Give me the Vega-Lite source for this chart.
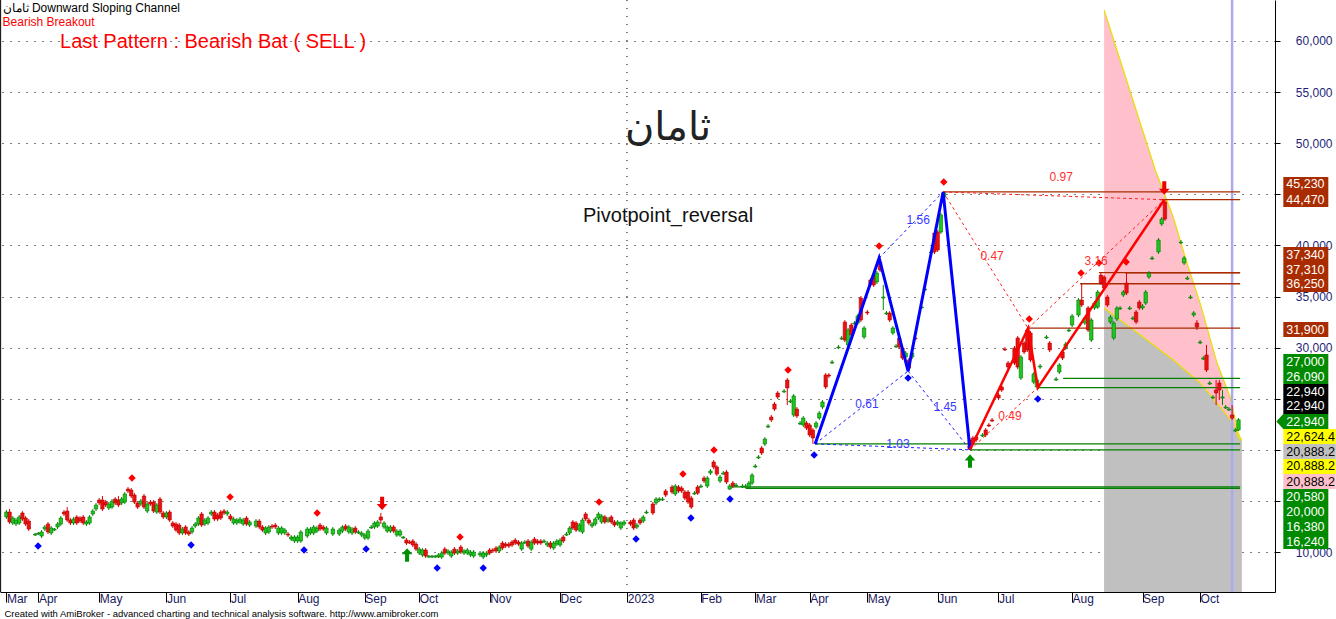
{
"$schema":"https://vega.github.io/schema/vega-lite/v6.json",
"width":1275,"height":592,"autosize":{"type":"none"},"padding":{"left":0,"top":0,"right":61,"bottom":27},"background":"white",
"config":{"view":{"stroke":null},"font":"Liberation Sans","scale":{"continuousPadding":0}},
"resolve":{"scale":{"color":"independent"}},
"datasets":{
"chan":[{"s":"up","n":345,"v":63030},{"s":"up","n":361,"v":47380},{"s":"up","n":363.4,"v":45420},{"s":"up","n":366.6,"v":42780},{"s":"up","n":370.9,"v":38280},{"s":"up","n":375,"v":34360},{"s":"up","n":380.3,"v":28490},{"s":"up","n":384.4,"v":25170},{"s":"up","n":386.9,"v":21640},{"s":"up","n":388,"v":20890},
{"s":"lo","n":345,"v":33880},{"s":"lo","n":350,"v":32700},{"s":"lo","n":358.4,"v":30740},{"s":"lo","n":366.6,"v":28790},{"s":"lo","n":375,"v":26540},{"s":"lo","n":380.3,"v":24580},{"s":"lo","n":385.3,"v":22620},{"s":"lo","n":386.9,"v":21250},{"s":"lo","n":388,"v":20890}],
"lev":[{"v":45230,"a":294.7,"b":387.5,"k":"r"},{"v":44470,"a":362.5,"b":387.5,"k":"r"},{"v":37340,"a":343.4,"b":387.5,"k":"r"},{"v":37310,"a":351.6,"b":387.5,"k":"r"},{"v":36250,"a":337.5,"b":387.5,"k":"r"},{"v":31900,"a":321.25,"b":387.5,"k":"r"},
{"v":27000,"a":332.2,"b":387.5,"k":"g"},{"v":26090,"a":324.3,"b":387.5,"k":"g"},{"v":20580,"a":254.7,"b":387.5,"k":"g"},{"v":20000,"a":303.1,"b":387.5,"k":"g"},{"v":16380,"a":228.1,"b":387.5,"k":"g"},{"v":16240,"a":233,"b":387.5,"k":"g"}],
"dash":[{"g":"b1","k":"b","n":254.7,"v":20580},{"g":"b1","k":"b","n":283.75,"v":27700},{"g":"b2","k":"b","n":274.7,"v":38770},{"g":"b2","k":"b","n":294.7,"v":45230},{"g":"b3","k":"b","n":283.75,"v":27700},{"g":"b3","k":"b","n":303.1,"v":20000},{"g":"b4","k":"b","n":254.7,"v":20580},{"g":"b4","k":"b","n":303.1,"v":20000},
{"g":"r1","k":"r","n":294.7,"v":45230},{"g":"r1","k":"r","n":321.25,"v":31900},{"g":"r2","k":"r","n":303.1,"v":20000},{"g":"r2","k":"r","n":324.3,"v":26090},{"g":"r3","k":"r","n":321.25,"v":31900},{"g":"r3","k":"r","n":363.8,"v":44470},{"g":"r4","k":"r","n":294.7,"v":45230},{"g":"r4","k":"r","n":363.8,"v":44470}],
"zig":[{"g":"b","n":254.7,"v":20580},{"g":"b","n":274.7,"v":38770},{"g":"b","n":283.75,"v":27700},{"g":"b","n":294.7,"v":45230},{"g":"b","n":303.1,"v":20000},
{"g":"r","n":303.1,"v":20000},{"g":"r","n":321.25,"v":31900},{"g":"r","n":324.3,"v":26090},{"g":"r","n":363.8,"v":44470}],
"ratios":[{"n":286.9,"v":42490,"t":"1.56","k":"b"},{"n":270.9,"v":24480,"t":"0.61","k":"b"},{"n":295.3,"v":24190,"t":"1.45","k":"b"},{"n":280.6,"v":20570,"t":"1.03","k":"b"},{"n":310,"v":38970,"t":"0.47","k":"r"},{"n":315.6,"v":23320,"t":"0.49","k":"r"},{"n":342.5,"v":38470,"t":"3.16","k":"r"},{"n":331.6,"v":46690,"t":"0.97","k":"r"}],
"piv":[{"n":41.25,"v":17240,"k":"hi"},{"n":71.9,"v":15380,"k":"hi"},{"n":99.1,"v":13820,"k":"hi"},{"n":143.75,"v":11470,"k":"hi"},{"n":187.2,"v":14890,"k":"hi"},{"n":213.4,"v":17630,"k":"hi"},{"n":223.1,"v":19980,"k":"hi"},{"n":246.25,"v":27810,"k":"hi"},{"n":274.7,"v":39940,"k":"hi"},{"n":294.9,"v":46200,"k":"hi"},{"n":321.6,"v":32800,"k":"hi"},{"n":337.8,"v":37300,"k":"hi"},{"n":343.4,"v":38280,"k":"hi"},{"n":351.9,"v":38380,"k":"hi"},
{"n":11.9,"v":10590,"k":"lo"},{"n":59.7,"v":10690,"k":"lo"},{"n":95,"v":10200,"k":"lo"},{"n":114.4,"v":10290,"k":"lo"},{"n":136.6,"v":8430,"k":"lo"},{"n":151,"v":8430,"k":"lo"},{"n":198.75,"v":11270,"k":"lo"},{"n":215.9,"v":13330,"k":"lo"},{"n":228.1,"v":15190,"k":"lo"},{"n":254.4,"v":19490,"k":"lo"},{"n":283.75,"v":27030,"k":"lo"},{"n":324.3,"v":24970,"k":"lo"}],
"arrows":[{"n":119.4,"v":14760,"k":"dn"},{"n":363.8,"v":45620,"k":"dn"},{"n":127.2,"v":9710,"k":"up"},{"n":303.1,"v":18900,"k":"up"}],
"tags":[{"t":"45,230","at":45960,"k":"dr"},{"t":"44,470","at":44490,"k":"dr"},{"t":"37,340","at":39110,"k":"dr"},{"t":"37,310","at":37640,"k":"dr"},{"t":"36,250","at":36180,"k":"dr"},{"t":"31,900","at":31770,"k":"dr"},{"t":"27,000","at":28640,"k":"g"},{"t":"26,090","at":27170,"k":"g"},{"t":"22,940","at":25700,"k":"bk"},{"t":"22,940","at":24240,"k":"bk"},{"t":"22,940","at":22770,"k":"ga"},{"t":"22,624.4","at":21300,"k":"y"},{"t":"20,888.2","at":19830,"k":"gr"},{"t":"20,888.2","at":18370,"k":"y"},{"t":"20,888.2","at":16900,"k":"p"},{"t":"20,580","at":15430,"k":"g"},{"t":"20,000","at":13960,"k":"g"},{"t":"16,380","at":12490,"k":"g"},{"t":"16,240","at":11030,"k":"g"}],
"candles":[
{"n":2,"o":13430,"h":14110,"l":13230,"c":13910},{"n":3,"o":13910,"h":14210,"l":12740,"c":12940},{"n":4,"o":12840,"h":13520,"l":12640,"c":13330},{"n":5,"o":12740,"h":13330,"l":12540,"c":13130},{"n":6,"o":12840,"h":13620,"l":12640,"c":13430},{"n":7,"o":13820,"h":14010,"l":13030,"c":13230},{"n":8,"o":13330,"h":13520,"l":12540,"c":12740},{"n":9,"o":13030,"h":13230,"l":12050,"c":12250},{"n":11,"o":11660,"h":11860,"l":11570,"c":11760},{"n":12,"o":11760,"h":11960,"l":11660,"c":11860},
{"n":13,"o":11570,"h":12150,"l":11370,"c":11960},{"n":14,"o":12250,"h":12640,"l":12050,"c":12450},{"n":15,"o":12740,"h":12940,"l":11760,"c":11960},{"n":16,"o":11860,"h":12540,"l":11660,"c":12350},{"n":17,"o":12150,"h":12350,"l":12050,"c":12250},{"n":18,"o":12450,"h":12940,"l":12250,"c":12740},{"n":19,"o":12740,"h":13520,"l":12540,"c":13330},{"n":20,"o":13910,"h":14110,"l":13520,"c":13720},{"n":21,"o":14010,"h":14400,"l":12940,"c":13130},{"n":22,"o":13130,"h":13330,"l":12640,"c":12840},
{"n":23,"o":12840,"h":13430,"l":12640,"c":13230},{"n":24,"o":13430,"h":13620,"l":12640,"c":12840},{"n":25,"o":13330,"h":13520,"l":12840,"c":13030},{"n":26,"o":13430,"h":13620,"l":12640,"c":12840},{"n":27,"o":12740,"h":13130,"l":12540,"c":12940},{"n":28,"o":12840,"h":13620,"l":12640,"c":13430},{"n":29,"o":13720,"h":14210,"l":13520,"c":14010},{"n":30,"o":14210,"h":14790,"l":14010,"c":14600},{"n":31,"o":15090,"h":15280,"l":14600,"c":14800},{"n":32,"o":15090,"h":15480,"l":14010,"c":14210},
{"n":33,"o":14890,"h":15090,"l":14400,"c":14600},{"n":34,"o":14310,"h":14890,"l":14110,"c":14700},{"n":35,"o":14400,"h":15190,"l":14210,"c":14990},{"n":36,"o":15190,"h":15380,"l":14600,"c":14800},{"n":37,"o":15090,"h":15480,"l":14400,"c":14600},{"n":38,"o":14800,"h":15380,"l":14600,"c":15190},{"n":39,"o":14890,"h":15870,"l":14700,"c":15680},{"n":40,"o":16160,"h":16360,"l":15770,"c":15970},{"n":41,"o":16070,"h":16260,"l":15280,"c":15480},{"n":42,"o":15580,"h":15770,"l":14700,"c":14890},
{"n":43,"o":14800,"h":14990,"l":14210,"c":14400},{"n":44,"o":14700,"h":15190,"l":14500,"c":14990},{"n":45,"o":15480,"h":15680,"l":14210,"c":14400},{"n":46,"o":14010,"h":14890,"l":13820,"c":14700},{"n":47,"o":14890,"h":15090,"l":14500,"c":14700},{"n":48,"o":14890,"h":15090,"l":13820,"c":14010},{"n":49,"o":13910,"h":14790,"l":13720,"c":14600},{"n":50,"o":15190,"h":15380,"l":13720,"c":13910},{"n":51,"o":13820,"h":14010,"l":13230,"c":13430},{"n":52,"o":13430,"h":14010,"l":13230,"c":13820},
{"n":53,"o":13910,"h":14110,"l":12940,"c":13130},{"n":54,"o":12840,"h":13030,"l":12350,"c":12540},{"n":55,"o":12740,"h":12940,"l":11960,"c":12150},{"n":56,"o":12640,"h":12840,"l":11660,"c":11860},{"n":57,"o":11860,"h":12450,"l":11660,"c":12250},{"n":58,"o":12450,"h":12640,"l":11660,"c":11860},{"n":59,"o":11960,"h":12150,"l":11570,"c":11760},{"n":60,"o":11960,"h":12540,"l":11760,"c":12350},{"n":61,"o":12540,"h":12940,"l":12350,"c":12740},{"n":62,"o":12740,"h":13520,"l":12540,"c":13330},
{"n":63,"o":13720,"h":13910,"l":12450,"c":12640},{"n":64,"o":12740,"h":13330,"l":12540,"c":13130},{"n":65,"o":12840,"h":13520,"l":12640,"c":13330},{"n":66,"o":13720,"h":14110,"l":13520,"c":13910},{"n":67,"o":13910,"h":14110,"l":13030,"c":13230},{"n":68,"o":13620,"h":13820,"l":13030,"c":13230},{"n":69,"o":13910,"h":14110,"l":13130,"c":13330},{"n":70,"o":14010,"h":14210,"l":13620,"c":13820},{"n":71,"o":13720,"h":14110,"l":13520,"c":13910},{"n":72,"o":13520,"h":13720,"l":13030,"c":13230},
{"n":73,"o":12840,"h":13430,"l":12640,"c":13230},{"n":74,"o":12840,"h":13330,"l":12640,"c":13130},{"n":75,"o":12940,"h":13430,"l":12740,"c":13230},{"n":76,"o":12740,"h":13330,"l":12540,"c":13130},{"n":77,"o":13330,"h":13520,"l":12540,"c":12740},{"n":78,"o":12640,"h":13130,"l":12450,"c":12940},{"n":80,"o":12540,"h":13230,"l":12350,"c":13030},{"n":81,"o":13030,"h":13230,"l":12250,"c":12450},{"n":82,"o":12450,"h":12640,"l":11960,"c":12150},{"n":83,"o":11860,"h":12540,"l":11660,"c":12350},
{"n":84,"o":11960,"h":12640,"l":11760,"c":12450},{"n":85,"o":12540,"h":12740,"l":12250,"c":12450},{"n":86,"o":12640,"h":12840,"l":12250,"c":12450},{"n":87,"o":11860,"h":12540,"l":11660,"c":12350},{"n":88,"o":11860,"h":12540,"l":11660,"c":12350},{"n":89,"o":11860,"h":12350,"l":11660,"c":12150},{"n":90,"o":11760,"h":11960,"l":11470,"c":11660},{"n":91,"o":11270,"h":11660,"l":11080,"c":11470},{"n":92,"o":11080,"h":11660,"l":10880,"c":11470},{"n":93,"o":11080,"h":11660,"l":10880,"c":11470},
{"n":94,"o":11080,"h":12150,"l":10880,"c":11960},{"n":96,"o":11570,"h":12450,"l":11370,"c":12250},{"n":97,"o":11860,"h":12450,"l":11660,"c":12250},{"n":98,"o":11860,"h":12640,"l":11660,"c":12450},{"n":99,"o":12050,"h":12540,"l":11860,"c":12350},{"n":100,"o":12640,"h":12840,"l":12050,"c":12250},{"n":101,"o":12450,"h":12640,"l":12050,"c":12250},{"n":102,"o":11860,"h":12540,"l":11660,"c":12350},{"n":104,"o":11760,"h":12450,"l":11570,"c":12250},{"n":106,"o":11760,"h":12350,"l":11570,"c":12150},
{"n":107,"o":12050,"h":12640,"l":11860,"c":12450},{"n":108,"o":12540,"h":12740,"l":12050,"c":12250},{"n":109,"o":11960,"h":12640,"l":11760,"c":12450},{"n":110,"o":11860,"h":12450,"l":11660,"c":12250},{"n":111,"o":12350,"h":12540,"l":11760,"c":11960},{"n":112,"o":11860,"h":12150,"l":11760,"c":11960},{"n":113,"o":11660,"h":12050,"l":11470,"c":11860},{"n":114,"o":11370,"h":11860,"l":11170,"c":11660},{"n":115,"o":11370,"h":12250,"l":11170,"c":12050},{"n":116,"o":12350,"h":12640,"l":12250,"c":12450},
{"n":117,"o":12450,"h":13030,"l":12250,"c":12840},{"n":118,"o":12540,"h":13130,"l":12350,"c":12940},{"n":119,"o":13430,"h":13820,"l":12740,"c":13130},{"n":120,"o":12450,"h":13030,"l":12250,"c":12840},{"n":121,"o":12050,"h":12640,"l":11860,"c":12450},{"n":122,"o":12050,"h":12640,"l":11860,"c":12450},{"n":123,"o":12450,"h":12640,"l":11860,"c":12050},{"n":124,"o":11660,"h":12250,"l":11470,"c":12050},{"n":125,"o":11660,"h":12250,"l":11470,"c":12050},{"n":126,"o":11370,"h":11570,"l":11270,"c":11470},
{"n":127,"o":11170,"h":11370,"l":10680,"c":10880},{"n":128,"o":10980,"h":11170,"l":10780,"c":10880},{"n":129,"o":11080,"h":11270,"l":10490,"c":10690},{"n":130,"o":10780,"h":10980,"l":10100,"c":10290},{"n":131,"o":9900,"h":10490,"l":9710,"c":10290},{"n":132,"o":9710,"h":10390,"l":9510,"c":10200},{"n":133,"o":10200,"h":10390,"l":9410,"c":9610},{"n":134,"o":9510,"h":9710,"l":9410,"c":9610},{"n":135,"o":9510,"h":9710,"l":9410,"c":9610},{"n":136,"o":9510,"h":9710,"l":9410,"c":9610},
{"n":137,"o":9510,"h":9900,"l":9410,"c":9710},{"n":138,"o":9510,"h":10100,"l":9310,"c":9900},{"n":139,"o":10290,"h":10490,"l":9710,"c":9900},{"n":140,"o":9900,"h":10290,"l":9710,"c":10100},{"n":141,"o":9610,"h":10200,"l":9410,"c":10000},{"n":142,"o":10290,"h":10490,"l":9710,"c":9900},{"n":143,"o":9900,"h":10290,"l":9710,"c":10100},{"n":144,"o":10490,"h":10690,"l":9800,"c":10000},{"n":145,"o":9900,"h":10290,"l":9710,"c":10100},{"n":146,"o":9900,"h":10390,"l":9710,"c":10200},
{"n":147,"o":9710,"h":10200,"l":9510,"c":10000},{"n":148,"o":9610,"h":10200,"l":9410,"c":10000},{"n":150,"o":9710,"h":10100,"l":9510,"c":9900},{"n":151,"o":9510,"h":10100,"l":9310,"c":9900},{"n":152,"o":9710,"h":10100,"l":9510,"c":9900},{"n":153,"o":10200,"h":10390,"l":9710,"c":9900},{"n":154,"o":10200,"h":10390,"l":9900,"c":10100},{"n":155,"o":10390,"h":10590,"l":9900,"c":10100},{"n":156,"o":10100,"h":10690,"l":9900,"c":10490},{"n":157,"o":10880,"h":11080,"l":10200,"c":10390},
{"n":158,"o":10780,"h":10980,"l":10390,"c":10590},{"n":159,"o":10780,"h":10980,"l":10390,"c":10590},{"n":160,"o":10980,"h":11170,"l":10490,"c":10690},{"n":161,"o":11170,"h":11370,"l":10690,"c":10880},{"n":162,"o":10980,"h":11170,"l":10590,"c":10780},{"n":163,"o":10290,"h":11080,"l":10100,"c":10880},{"n":164,"o":10880,"h":11170,"l":10780,"c":10980},{"n":165,"o":11080,"h":11270,"l":10390,"c":10590},{"n":166,"o":10290,"h":11170,"l":10100,"c":10980},{"n":167,"o":11270,"h":11470,"l":10690,"c":10880},
{"n":168,"o":11080,"h":11270,"l":10690,"c":10880},{"n":169,"o":11080,"h":11270,"l":10690,"c":10880},{"n":170,"o":10980,"h":11270,"l":10880,"c":11080},{"n":171,"o":10690,"h":11080,"l":10490,"c":10880},{"n":172,"o":10880,"h":11080,"l":10290,"c":10490},{"n":173,"o":10390,"h":11080,"l":10200,"c":10880},{"n":174,"o":10780,"h":11270,"l":10590,"c":11080},{"n":175,"o":10690,"h":11370,"l":10490,"c":11170},{"n":176,"o":11470,"h":11660,"l":10880,"c":11080},{"n":177,"o":11660,"h":11960,"l":11570,"c":11760},
{"n":178,"o":11860,"h":12540,"l":11660,"c":12350},{"n":179,"o":12940,"h":13130,"l":12150,"c":12350},{"n":180,"o":12840,"h":13030,"l":11960,"c":12150},{"n":181,"o":12150,"h":12840,"l":11960,"c":12640},{"n":182,"o":11960,"h":13330,"l":11760,"c":13130},{"n":183,"o":13720,"h":13910,"l":13030,"c":13230},{"n":184,"o":13130,"h":13330,"l":12640,"c":12840},{"n":185,"o":12540,"h":12940,"l":12350,"c":12740},{"n":186,"o":12740,"h":13430,"l":12540,"c":13230},{"n":187,"o":13330,"h":13910,"l":13130,"c":13720},
{"n":188,"o":12940,"h":13720,"l":12740,"c":13520},{"n":189,"o":13430,"h":13620,"l":12740,"c":12940},{"n":190,"o":13030,"h":13430,"l":12840,"c":13230},{"n":191,"o":13430,"h":13620,"l":12740,"c":12940},{"n":192,"o":12940,"h":13130,"l":12450,"c":12640},{"n":193,"o":12740,"h":13130,"l":12540,"c":12940},{"n":194,"o":12350,"h":13030,"l":12150,"c":12840},{"n":195,"o":12740,"h":13130,"l":12540,"c":12940},{"n":197,"o":12940,"h":13130,"l":12540,"c":12740},{"n":198,"o":13130,"h":13330,"l":12150,"c":12350},
{"n":199,"o":12450,"h":12840,"l":12250,"c":12640},{"n":200,"o":13130,"h":13330,"l":12640,"c":12840},{"n":201,"o":13030,"h":13620,"l":12840,"c":13430},{"n":202,"o":13820,"h":14110,"l":13720,"c":13910},{"n":204,"o":14700,"h":14890,"l":13620,"c":13820},{"n":205,"o":14800,"h":15380,"l":14600,"c":15190},{"n":206,"o":15090,"h":15380,"l":14990,"c":15190},{"n":207,"o":15090,"h":15380,"l":14990,"c":15190},{"n":208,"o":15970,"h":16160,"l":15380,"c":15580},{"n":210,"o":16360,"h":16560,"l":15680,"c":15870},
{"n":211,"o":15680,"h":16650,"l":15480,"c":16460},{"n":212,"o":16360,"h":16560,"l":15770,"c":15970},{"n":213,"o":16260,"h":16460,"l":15770,"c":15970},{"n":214,"o":15870,"h":16070,"l":15090,"c":15280},{"n":215,"o":15870,"h":16070,"l":14700,"c":14890},{"n":216,"o":15280,"h":15480,"l":14210,"c":14400},{"n":217,"o":15680,"h":15970,"l":15580,"c":15770},{"n":218,"o":16360,"h":16560,"l":15580,"c":15770},{"n":219,"o":16360,"h":16650,"l":16260,"c":16460},{"n":220,"o":17240,"h":17440,"l":16750,"c":16950},
{"n":221,"o":16460,"h":17440,"l":16260,"c":17240},{"n":222,"o":17730,"h":18120,"l":17540,"c":17930},{"n":223,"o":18810,"h":19000,"l":18120,"c":18320},{"n":224,"o":18320,"h":18510,"l":17440,"c":17630},{"n":225,"o":16950,"h":17540,"l":16750,"c":17340},{"n":226,"o":17630,"h":17930,"l":17540,"c":17730},{"n":227,"o":17830,"h":18020,"l":16650,"c":16850},{"n":228,"o":16160,"h":16650,"l":16070,"c":16460},{"n":229,"o":16750,"h":16950,"l":16260,"c":16460},{"n":230,"o":16460,"h":16750,"l":16360,"c":16560},
{"n":232,"o":16360,"h":16650,"l":16260,"c":16460},{"n":233,"o":16360,"h":16650,"l":16260,"c":16460},{"n":234,"o":16360,"h":16950,"l":16160,"c":16750},{"n":235,"o":16750,"h":17730,"l":16560,"c":17530},{"n":236,"o":18320,"h":18610,"l":18220,"c":18420},{"n":237,"o":19200,"h":19490,"l":19100,"c":19300},{"n":238,"o":20180,"h":20370,"l":19490,"c":19690},{"n":239,"o":20570,"h":21250,"l":20370,"c":21060},{"n":240,"o":22230,"h":22520,"l":22130,"c":22330},{"n":241,"o":23210,"h":23400,"l":22720,"c":22920},
{"n":242,"o":24480,"h":24680,"l":23800,"c":23990},{"n":243,"o":25560,"h":25750,"l":24970,"c":25170},{"n":245,"o":25660,"h":25950,"l":25560,"c":25750},{"n":246,"o":26830,"h":27030,"l":24380,"c":26050},{"n":247,"o":24680,"h":24970,"l":24580,"c":24780},{"n":248,"o":23410,"h":25460,"l":23210,"c":25270},{"n":249,"o":23990,"h":24190,"l":23110,"c":23310},{"n":250,"o":22520,"h":22820,"l":22430,"c":22620},{"n":251,"o":22430,"h":23310,"l":22230,"c":23110},{"n":252,"o":22620,"h":22820,"l":21940,"c":22130},
{"n":253,"o":22430,"h":22620,"l":21250,"c":21450},{"n":254,"o":21940,"h":22130,"l":20580,"c":21160},{"n":255,"o":22230,"h":22820,"l":22040,"c":22620},{"n":256,"o":23110,"h":23800,"l":22920,"c":23600},{"n":257,"o":24190,"h":24870,"l":23990,"c":24680},{"n":258,"o":27320,"h":27510,"l":25950,"c":26150},{"n":259,"o":27320,"h":27510,"l":27030,"c":27220},{"n":260,"o":28490,"h":28790,"l":28400,"c":28590},{"n":262,"o":29970,"h":30260,"l":29860,"c":30060},{"n":263,"o":30840,"h":31140,"l":30740,"c":30940},
{"n":264,"o":32500,"h":32700,"l":30550,"c":30740},{"n":265,"o":30260,"h":31920,"l":30060,"c":31720},{"n":266,"o":32210,"h":32410,"l":31040,"c":31230},{"n":267,"o":32310,"h":32600,"l":32210,"c":32410},{"n":268,"o":32410,"h":33290,"l":32210,"c":33090},{"n":269,"o":34850,"h":35050,"l":32500,"c":32700},{"n":270,"o":31040,"h":32110,"l":30840,"c":31920},{"n":271,"o":33480,"h":33680,"l":33190,"c":33390},{"n":272,"o":36620,"h":36810,"l":35930,"c":36130},{"n":273,"o":37100,"h":37300,"l":35930,"c":36130},
{"n":274,"o":36420,"h":37500,"l":36220,"c":37300},{"n":275,"o":38380,"h":38770,"l":37400,"c":37590},{"n":276,"o":34850,"h":36130,"l":33680,"c":34950},{"n":277,"o":33290,"h":33580,"l":33190,"c":33390},{"n":278,"o":33390,"h":33580,"l":32500,"c":32700},{"n":279,"o":31430,"h":32110,"l":31240,"c":31920},{"n":280,"o":30060,"h":30350,"l":29960,"c":30160},{"n":281,"o":30940,"h":31140,"l":29860,"c":30060},{"n":282,"o":29960,"h":30160,"l":28790,"c":28980},{"n":283,"o":29080,"h":29670,"l":28880,"c":29470},
{"n":284,"o":28790,"h":28980,"l":27700,"c":28000},{"n":285,"o":29080,"h":29670,"l":28880,"c":29470},{"n":286,"o":30940,"h":31140,"l":30740,"c":30840},{"n":288,"o":33890,"h":34170,"l":33780,"c":33970},{"n":289,"o":35640,"h":35930,"l":35540,"c":35740},{"n":291,"o":39260,"h":39550,"l":39160,"c":39360},{"n":292,"o":41210,"h":41400,"l":39160,"c":39360},{"n":293,"o":41310,"h":41510,"l":39360,"c":39550},{"n":294,"o":41310,"h":43170,"l":41120,"c":42980},{"n":295,"o":44740,"h":45230,"l":44540,"c":45130},
{"n":303,"o":20960,"h":21160,"l":20000,"c":20080},{"n":304,"o":21160,"h":21350,"l":20470,"c":20670},{"n":305,"o":21250,"h":21450,"l":20760,"c":20960},{"n":307,"o":21350,"h":21640,"l":21250,"c":21450},{"n":308,"o":21940,"h":22130,"l":21250,"c":21450},{"n":309,"o":22430,"h":22620,"l":22230,"c":22330},{"n":310,"o":22920,"h":23110,"l":22720,"c":22820},{"n":312,"o":25360,"h":25560,"l":24870,"c":25070},{"n":313,"o":26150,"h":26340,"l":25660,"c":25850},{"n":314,"o":29860,"h":30060,"l":29670,"c":29770},
{"n":315,"o":28490,"h":28690,"l":27900,"c":28100},{"n":317,"o":29960,"h":30160,"l":28300,"c":28490},{"n":318,"o":30940,"h":31140,"l":27900,"c":28100},{"n":319,"o":27030,"h":29280,"l":26830,"c":29080},{"n":320,"o":30450,"h":30650,"l":29370,"c":29570},{"n":321,"o":31720,"h":31900,"l":29570,"c":29770},{"n":322,"o":31430,"h":31620,"l":28590,"c":28790},{"n":323,"o":26630,"h":27610,"l":26440,"c":27420},{"n":324,"o":26150,"h":27030,"l":26090,"c":26830},{"n":325,"o":28100,"h":28400,"l":27900,"c":28200},
{"n":327,"o":30940,"h":31230,"l":30840,"c":31040},{"n":328,"o":30450,"h":30650,"l":29570,"c":29770},{"n":330,"o":26830,"h":27130,"l":26730,"c":26930},{"n":331,"o":27610,"h":28490,"l":27420,"c":28300},{"n":332,"o":29570,"h":29770,"l":28790,"c":28980},{"n":333,"o":29960,"h":30550,"l":29770,"c":30350},{"n":334,"o":31630,"h":31920,"l":31530,"c":31720},{"n":335,"o":32210,"h":33290,"l":32010,"c":33090},{"n":337,"o":33190,"h":34850,"l":32990,"c":34660},{"n":338,"o":34660,"h":36250,"l":33970,"c":34170},
{"n":339,"o":32410,"h":33090,"l":32210,"c":32900},{"n":340,"o":33880,"h":34070,"l":31530,"c":31720},{"n":341,"o":30740,"h":32900,"l":30550,"c":32700},{"n":342,"o":33880,"h":34560,"l":33680,"c":34360},{"n":343,"o":33970,"h":35640,"l":33780,"c":35440},{"n":344,"o":37100,"h":37340,"l":36130,"c":36320},{"n":345,"o":36910,"h":37100,"l":35640,"c":35830},{"n":346,"o":34950,"h":35150,"l":33970,"c":34170},{"n":347,"o":32500,"h":33190,"l":32310,"c":32990},{"n":348,"o":30940,"h":32600,"l":30740,"c":32410},
{"n":349,"o":32800,"h":34070,"l":32600,"c":33880},{"n":350,"o":33780,"h":34070,"l":33680,"c":33880},{"n":351,"o":35150,"h":35640,"l":34950,"c":35440},{"n":352,"o":36320,"h":37310,"l":35150,"c":35340},{"n":353,"o":33780,"h":34070,"l":33680,"c":33880},{"n":354,"o":32800,"h":33090,"l":32700,"c":32900},{"n":355,"o":33480,"h":33680,"l":32310,"c":32510},{"n":356,"o":34460,"h":34660,"l":33680,"c":33880},{"n":357,"o":33880,"h":34270,"l":33680,"c":34070},{"n":358,"o":34360,"h":35640,"l":34170,"c":35440},
{"n":359,"o":36910,"h":37500,"l":36720,"c":37300},{"n":360,"o":38670,"h":38960,"l":38570,"c":38770},{"n":362,"o":39360,"h":40720,"l":39160,"c":40530},{"n":363,"o":42100,"h":42780,"l":41900,"c":42580},{"n":364,"o":44250,"h":44470,"l":42390,"c":42580},{"n":369,"o":40240,"h":40530,"l":40140,"c":40330},{"n":370,"o":38280,"h":38960,"l":38080,"c":38770},{"n":371,"o":36710,"h":37010,"l":36620,"c":36810},{"n":372,"o":34850,"h":35150,"l":34760,"c":34950},{"n":373,"o":33190,"h":33580,"l":32990,"c":33390},
{"n":374,"o":32410,"h":32700,"l":31720,"c":32020},{"n":375,"o":30450,"h":30740,"l":30350,"c":30550},{"n":376,"o":28880,"h":29180,"l":28790,"c":28980},{"n":377,"o":29280,"h":30260,"l":27610,"c":27810},{"n":378,"o":26440,"h":26730,"l":26340,"c":26540},{"n":379,"o":25070,"h":25360,"l":24970,"c":25170},{"n":380,"o":25850,"h":26830,"l":24380,"c":25560},{"n":381,"o":26540,"h":26830,"l":24870,"c":25850},{"n":382,"o":25070,"h":25850,"l":24380,"c":25170},{"n":383,"o":24090,"h":24380,"l":23990,"c":24190},
{"n":384,"o":23890,"h":24190,"l":23800,"c":23990},{"n":385,"o":23410,"h":24380,"l":22920,"c":23110},{"n":386,"o":21840,"h":22130,"l":21740,"c":21940},{"n":387,"o":21940,"h":23110,"l":21840,"c":22940}]
},
"layer":[
{"data":{"name":"chan"},"transform":[{"filter":"datum.s=='up'"}],
 "mark":{"type":"area","color":"#ffc0cb","opacity":1},
 "encoding":{
  "x":{"field":"n","type":"quantitative","scale":{"domain":[0,398.4],"nice":false,"zero":false,"padding":0},
   "axis":{"values":[2,12,31,52,72,93,114,131,153,175,196,219,236,253,271,293,312,335,357,375],
    "labelExpr":"['Mar','Apr','May','Jun','Jul','Aug','Sep','Oct','Nov','Dec','2023','Feb','Mar','Apr','May','Jun','Jul','Aug','Sep','Oct'][indexof([2,12,31,52,72,93,114,131,153,175,196,219,236,253,271,293,312,335,357,375],datum.value)]",
    "labelAlign":"left","labelBaseline":"top","labelPadding":-9,"labelDx":3,"tickSize":10,"tickColor":"black","domainColor":"black","labelColor":"#1a1a5e","labelFontSize":12,"labelFont":"Liberation Sans","grid":false,"labelOverlap":false,"labelFlush":false,
    "title":"Created with AmiBroker - advanced charting and technical analysis software. http://www.amibroker.com","titleFontSize":9.5,"titleFontWeight":"normal","titleColor":"#000000","titleAnchor":"start","titleAlign":"left","titleBaseline":"middle","titleX":4,"titleY":21,"titleFont":"Liberation Sans"}},
  "y":{"field":"v","type":"quantitative","scale":{"domain":[6090,64010],"nice":false,"zero":false,"padding":0},
   "axis":{"orient":"right","values":[10000,15000,20000,25000,30000,35000,40000,45000,50000,55000,60000],"format":",d",
    "labelExpr":"indexof([15000,20000,25000,45000],datum.value)>=0 ? '' : datum.label",
    "tickSize":5,"tickColor":"black","domainColor":"black","labelColor":"#1f1f78","labelFontSize":12,"labelFont":"Liberation Sans","labelAlign":"right","labelPadding":52,"labelBaseline":"middle","grid":true,"gridColor":"black","gridDash":[1,7],"gridOpacity":1,"title":null,"labelOverlap":false,"labelFlush":false}},
  "y2":{"datum":6090}}},
{"data":{"name":"chan"},"transform":[{"filter":"datum.s=='lo'"}],
 "mark":{"type":"area","color":"#c0c0c0","opacity":1},
 "encoding":{"x":{"field":"n","type":"quantitative"},"y":{"field":"v","type":"quantitative"},"y2":{"datum":6090}}},
{"data":{"name":"chan"},
 "mark":{"type":"line","color":"#e8e000","strokeWidth":1.2},
 "encoding":{"x":{"field":"n","type":"quantitative"},"y":{"field":"v","type":"quantitative"},"detail":{"field":"s"}}},
{"data":{"values":[{}]},"mark":{"type":"rule","color":"black","strokeDash":[1,7]},"encoding":{"x":{"datum":195.9}}},
{"data":{"values":[{}]},"mark":{"type":"rule","color":"black","strokeWidth":1},"encoding":{"x":{"datum":0.2}}},
{"data":{"values":[{}]},"mark":{"type":"rule","color":"#aaaaf0","strokeWidth":2.5},"encoding":{"x":{"datum":385}}},
{"data":{"name":"lev"},
 "mark":{"type":"rule","strokeWidth":1.3},
 "encoding":{"x":{"field":"a","type":"quantitative"},"x2":{"field":"b"},"y":{"field":"v","type":"quantitative"},
  "color":{"condition":{"test":"datum.k=='r'","value":"#a82c00"},"value":"#008000"}}},
{"data":{"name":"dash"},
 "mark":{"type":"line","strokeWidth":1,"strokeDash":[3,3]},
 "encoding":{"x":{"field":"n","type":"quantitative"},"y":{"field":"v","type":"quantitative"},"detail":{"field":"g"},
  "color":{"condition":{"test":"datum.k=='b'","value":"#2020ff"},"value":"#ff2020"}}},
{"data":{"name":"candles"},
 "mark":{"type":"rule","strokeWidth":1},
 "encoding":{"x":{"field":"n","type":"quantitative"},"y":{"field":"l","type":"quantitative"},"y2":{"field":"h"},
  "color":{"condition":{"test":"datum.c>=datum.o","value":"#008a00"},"value":"#e00000"}}},
{"data":{"name":"candles"},
 "mark":{"type":"bar","width":3.4,"strokeWidth":0.6},
 "encoding":{"x":{"field":"n","type":"quantitative"},"y":{"field":"o","type":"quantitative"},"y2":{"field":"c"},
  "fill":{"condition":{"test":"datum.c>=datum.o","value":"#1ec81e"},"value":"#ee1010"},
  "stroke":{"condition":{"test":"datum.c>=datum.o","value":"#007000"},"value":"#b00000"}}},
{"data":{"name":"zig"},
 "mark":{"type":"line"},
 "encoding":{"x":{"field":"n","type":"quantitative"},"y":{"field":"v","type":"quantitative"},"detail":{"field":"g"},
  "color":{"condition":{"test":"datum.g=='b'","value":"#0000ff"},"value":"#ff0000"},
  "strokeWidth":{"condition":{"test":"datum.g=='b'","value":3},"value":2.5}}},
{"data":{"name":"piv"},
 "mark":{"type":"point","shape":"diamond","filled":true,"size":55,"opacity":1},
 "encoding":{"x":{"field":"n","type":"quantitative"},"y":{"field":"v","type":"quantitative"},
  "color":{"condition":{"test":"datum.k=='hi'","value":"#ff0000"},"value":"#0000ff"}}},
{"data":{"name":"arrows"},"transform":[{"filter":"datum.k=='dn'"}],
 "mark":{"type":"point","shape":"M-0.3,-1L0.3,-1L0.3,0.1L0.8,0.1L0,1L-0.8,0.1L-0.3,0.1Z","filled":true,"size":180,"opacity":1,"color":"#ee0000"},
 "encoding":{"x":{"field":"n","type":"quantitative"},"y":{"field":"v","type":"quantitative"}}},
{"data":{"name":"arrows"},"transform":[{"filter":"datum.k=='up'"}],
 "mark":{"type":"point","shape":"M-0.3,1L0.3,1L0.3,-0.1L0.8,-0.1L0,-1L-0.8,-0.1L-0.3,-0.1Z","filled":true,"size":180,"opacity":1,"color":"#009000"},
 "encoding":{"x":{"field":"n","type":"quantitative"},"y":{"field":"v","type":"quantitative"}}},
{"data":{"name":"ratios"},
 "mark":{"type":"text","fontSize":12,"font":"Liberation Sans","align":"center","baseline":"middle"},
 "encoding":{"x":{"field":"n","type":"quantitative"},"y":{"field":"v","type":"quantitative"},"text":{"field":"t"},
  "color":{"condition":{"test":"datum.k=='b'","value":"#3a3aff"},"value":"#ff3030"}}},
{"data":{"values":[{}]},"mark":{"type":"text","text":"ثامان Downward Sloping Channel","align":"left","baseline":"middle","fontSize":12,"font":"Liberation Sans","color":"#000000"},"encoding":{"x":{"datum":0.8},"y":{"datum":63230}}},
{"data":{"values":[{}]},"mark":{"type":"text","text":"Bearish Breakout","align":"left","baseline":"middle","fontSize":12,"font":"Liberation Sans","color":"#ff0000"},"encoding":{"x":{"datum":0.8},"y":{"datum":61860}}},
{"data":{"values":[{}]},"mark":{"type":"text","text":"Last Pattern : Bearish Bat ( SELL )","align":"left","baseline":"middle","fontSize":20,"font":"Liberation Sans","color":"#ff0000"},"encoding":{"x":{"datum":18.75},"y":{"datum":59900}}},
{"data":{"values":[{}]},"mark":{"type":"text","text":"ثامان","align":"center","baseline":"middle","fontSize":40,"font":"DejaVu Sans","color":"#222222"},"encoding":{"x":{"datum":208.75},"y":{"datum":51490}}},
{"data":{"values":[{}]},"mark":{"type":"text","text":"Pivotpoint_reversal","align":"center","baseline":"middle","fontSize":20,"font":"Liberation Sans","color":"#111111"},"encoding":{"x":{"datum":208.75},"y":{"datum":42880}}},
{"data":{"name":"tags"},"transform":[{"filter":"datum.k!='ga' && length(datum.t)<=6"}],
 "mark":{"type":"point","shape":"M0,-1H6V1H0Z","filled":true,"size":225,"opacity":1,"strokeWidth":0},
 "encoding":{"x":{"datum":401},"y":{"field":"at","type":"quantitative"},
  "color":{"field":"k","type":"nominal","scale":{"domain":["dr","g","bk","ga","y","gr","p"],"range":["#a82c00","#008a00","#000000","#008a00","#ffff00","#c0c0c0","#ffc0cb"]},"legend":null}}},
{"data":{"name":"tags"},"transform":[{"filter":"length(datum.t)>6"}],
 "mark":{"type":"point","shape":"M0,-1H7V1H0Z","filled":true,"size":225,"opacity":1,"strokeWidth":0},
 "encoding":{"x":{"datum":401},"y":{"field":"at","type":"quantitative"},
  "color":{"field":"k","type":"nominal","scale":{"domain":["dr","g","bk","ga","y","gr","p"],"range":["#a82c00","#008a00","#000000","#008a00","#ffff00","#c0c0c0","#ffc0cb"]},"legend":null}}},
{"data":{"name":"tags"},"transform":[{"filter":"datum.k=='ga'"}],
 "mark":{"type":"point","shape":"M-0.93,0L0,-1H6V1H0Z","filled":true,"size":225,"opacity":1,"strokeWidth":0,"color":"#008a00"},
 "encoding":{"x":{"datum":401},"y":{"field":"at","type":"quantitative"}}},
{"data":{"name":"tags"},
 "mark":{"type":"text","align":"left","baseline":"middle","dx":3,"fontSize":12.5,"font":"Liberation Sans"},
 "encoding":{"x":{"datum":401},"y":{"field":"at","type":"quantitative"},"text":{"field":"t"},
  "color":{"condition":{"test":"datum.k=='y' || datum.k=='gr' || datum.k=='p'","value":"#000000"},"value":"#ffffff"}}}
]
}
